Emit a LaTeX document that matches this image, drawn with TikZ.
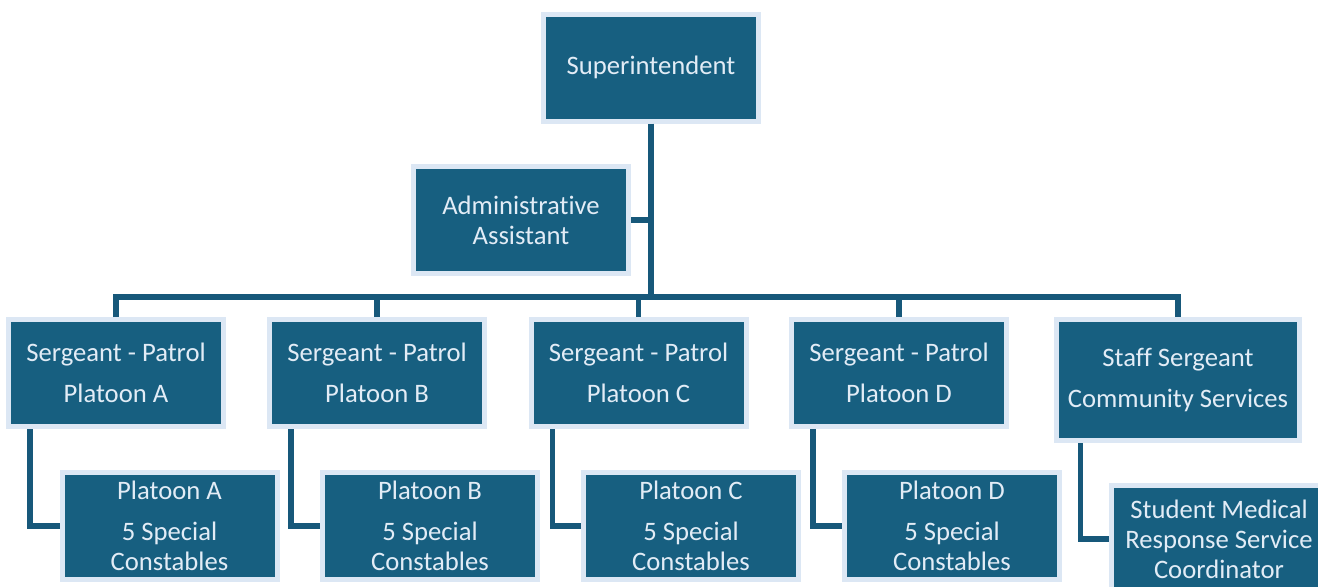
\documentclass[tikz,border=0pt]{standalone}
\usepackage{fontspec}
\setmainfont{Carlito}[Ligatures={NoCommon}]
\usepackage{tikz}
\usetikzlibrary{positioning}
\definecolor{boxfill}{HTML}{175F80}
\definecolor{boxrim}{HTML}{DCE7F4}
\definecolor{boxtext}{HTML}{E2ECF6}
\definecolor{linkcol}{HTML}{17587A}

\begin{document}
\begin{tikzpicture}[x=0.75pt,y=-0.75pt,
        box/.style={draw=boxrim,fill=boxfill,line width=3.75pt,text=boxtext,
            minimum width=161.25pt,minimum height=80.25pt,inner sep=0pt,
            align=center,font=\fontsize{20}{22.5}\selectfont},
        widebox/.style={box,minimum width=182.25pt,minimum height=90.75pt},
        link/.style={draw=linkcol,line width=4.2pt}]
        \useasboundingbox (0,0) rectangle (1318,586);
        \clip (0,0) rectangle (1318,586);
        % top
        \node[box] (super) at (651,67.5) {Superintendent};
        \node[box] (admin) at (521,220) {Administrative\\Assistant};
        \coordinate (bus) at (651,297);
        % sergeants
        \node[box] (sgtA) at (116,373) {Sergeant - Patrol\\[8.25pt]Platoon A};
        \node[box] (sgtB) at (377,373) {Sergeant - Patrol\\[8.25pt]Platoon B};
        \node[box] (sgtC) at (638.5,373) {Sergeant - Patrol\\[8.25pt]Platoon C};
        \node[box] (sgtD) at (899,373) {Sergeant - Patrol\\[8.25pt]Platoon D};
        \node[widebox] (staff) at (1178,380) {Staff Sergeant\\[8.25pt]Community Services};
        % platoons
        \node[box] (platA) at (169.5,526) {Platoon A\\[8.25pt]5 Special\\Constables};
        \node[box] (platB) at (430,526) {Platoon B\\[8.25pt]5 Special\\Constables};
        \node[box] (platC) at (691,526) {Platoon C\\[8.25pt]5 Special\\Constables};
        \node[box] (platD) at (952,526) {Platoon D\\[8.25pt]5 Special\\Constables};
        \node[box] (medic) at (1219,539) {Student Medical\\Response Service\\Coordinator};
        % links
        \draw[link] (super.south) -- (bus);
        \draw[link] (admin.east) -- (admin.east -| bus);
        \draw[link] (sgtA.north) |- (bus) -| (staff.north);
        \draw[link] (sgtB.north |- bus) -- (sgtB.north);
        \draw[link] (sgtC.north |- bus) -- (sgtC.north);
        \draw[link] (sgtD.north |- bus) -- (sgtD.north);
        \draw[link] ([xshift=18pt]sgtA.south west) |- (platA.west);
        \draw[link] ([xshift=18pt]sgtB.south west) |- (platB.west);
        \draw[link] ([xshift=18pt]sgtC.south west) |- (platC.west);
        \draw[link] ([xshift=18pt]sgtD.south west) |- (platD.west);
        \draw[link] ([xshift=20pt]staff.south west) |- (medic.west);
\end{tikzpicture}
\end{document}
